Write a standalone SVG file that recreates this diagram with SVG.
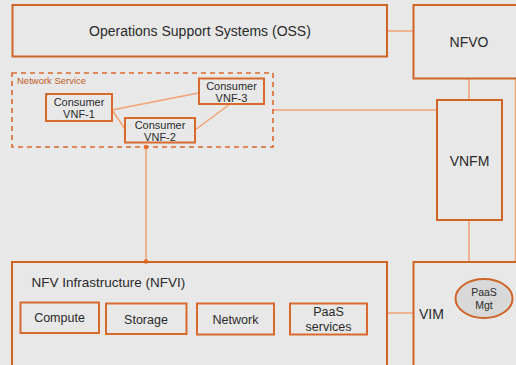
<svg xmlns="http://www.w3.org/2000/svg" width="516" height="365" viewBox="0 0 516 365">
<style>
.box{fill:none;stroke:#cf6427;stroke-width:2}
.sub{fill:none;stroke:#d96a2e;stroke-width:2}
.con{fill:none;stroke:#f3a274;stroke-width:1.5}
.t{font-family:"Liberation Sans",Arial,sans-serif;fill:#2a2a2a;text-anchor:middle}
</style>
<rect width="516" height="365" fill="#e8e8e8"/>
<g id="connectors">
<line class="con" x1="387" y1="31" x2="413" y2="31"/>
<line class="con" x1="273" y1="110" x2="437" y2="110"/>
<line class="con" x1="469" y1="79" x2="469" y2="100"/>
<line class="con" x1="469" y1="220" x2="469" y2="262"/>
<line class="con" x1="515.5" y1="79" x2="515.5" y2="262"/>
<line class="con" x1="387" y1="313" x2="413" y2="313"/>
<line class="con" x1="112" y1="110" x2="198.5" y2="93"/>
<line class="con" x1="112" y1="110" x2="125" y2="129"/>
<line class="con" x1="230" y1="104" x2="195" y2="130"/>
<line class="con" x1="146" y1="147" x2="146" y2="262"/>
<circle cx="146" cy="147" r="2.3" fill="#f26b1d"/>
<circle cx="146" cy="261.5" r="2.3" fill="#f26b1d"/>
</g>
<g id="oss">
<rect class="box" x="12.5" y="5" width="374.5" height="51.5"/>
<text class="t" x="200" y="36" font-size="14">Operations Support Systems (OSS)</text>
</g>
<g id="nfvo">
<rect class="box" x="413.5" y="5" width="110" height="73.5"/>
<text class="t" x="469" y="47" font-size="14">NFVO</text>
</g>
<g id="network-service">
<rect x="12" y="73" width="261" height="74" fill="none" stroke="#d96a2e" stroke-width="1.6" stroke-dasharray="5,4"/>
<text x="17" y="84" font-family="'Liberation Sans',Arial,sans-serif" font-size="9.5" fill="#c05a22">Network Service</text>
</g>
<g id="vnf1">
<rect class="sub" x="46" y="94" width="66" height="27"/>
<text class="t" x="79" y="105.5" font-size="11">Consumer</text>
<text class="t" x="79" y="117.5" font-size="11">VNF-1</text>
</g>
<g id="vnf2">
<rect class="sub" x="125" y="118" width="70" height="24.5"/>
<text class="t" x="160" y="129" font-size="11">Consumer</text>
<text class="t" x="160" y="141" font-size="11">VNF-2</text>
</g>
<g id="vnf3">
<rect class="sub" x="199" y="78.5" width="65" height="25.5"/>
<text class="t" x="231.5" y="89.5" font-size="11">Consumer</text>
<text class="t" x="231.5" y="101.5" font-size="11">VNF-3</text>
</g>
<g id="vnfm">
<rect class="box" x="437" y="100" width="65" height="120"/>
<text class="t" x="469.5" y="166" font-size="14">VNFM</text>
</g>
<g id="nfvi">
<rect class="box" x="12" y="262" width="375" height="110"/>
<text x="31.5" y="286.5" font-family="'Liberation Sans',Arial,sans-serif" font-size="13.5" fill="#2a2a2a">NFV Infrastructure (NFVI)</text>
</g>
<g id="compute">
<rect class="sub" x="20.5" y="302.5" width="78.5" height="30.5"/>
<text class="t" x="59.5" y="322" font-size="12.5">Compute</text>
</g>
<g id="storage">
<rect class="sub" x="106" y="303.5" width="80.5" height="30.5"/>
<text class="t" x="146" y="323.5" font-size="12.5">Storage</text>
</g>
<g id="network">
<rect class="sub" x="197" y="303.5" width="77" height="31"/>
<text class="t" x="235.5" y="323.5" font-size="12.5">Network</text>
</g>
<g id="paas-services">
<rect class="sub" x="290" y="303.5" width="77" height="31"/>
<text class="t" x="328.5" y="316" font-size="12.5">PaaS</text>
<text class="t" x="328.5" y="331" font-size="12.5">services</text>
</g>
<g id="vim">
<rect class="box" x="413.5" y="262" width="110" height="110"/>
<text x="419" y="319" font-family="'Liberation Sans',Arial,sans-serif" font-size="14" fill="#2a2a2a">VIM</text>
</g>
<g id="paas-mgt">
<ellipse cx="484" cy="298.5" rx="28.5" ry="19.5" fill="#d8d8d8" stroke="#cf6427" stroke-width="2"/>
<text class="t" x="484" y="296" font-size="10.5">PaaS</text>
<text class="t" x="484" y="309" font-size="10.5">Mgt</text>
</g>
</svg>
